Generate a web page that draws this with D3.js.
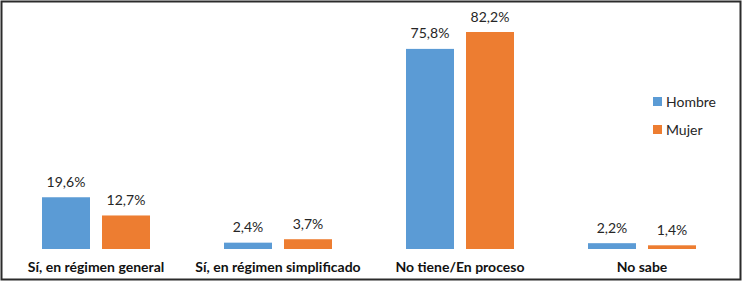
<!DOCTYPE html>
<html>
<head>
<meta charset="utf-8">
<script src="https://cdn.jsdelivr.net/npm/d3@7"></script>
<style>
  body { margin: 0; background: #fff; }
  text { font-family: Lato, "Open Sans", sans-serif; }
</style>
</head>
<body>
<svg id="chart" width="743" height="282"></svg>
<script>
// data
const categories = ["Sí, en régimen general", "Sí, en régimen simplificado", "No tiene/En proceso", "No sabe"];
const seriesNames = ["Hombre", "Mujer"];
const hombre = [19.6, 2.4, 75.8, 2.2];
const mujer = [12.7, 3.7, 82.2, 1.4];
const colors = ["#5B9BD5", "#ED7D31"];

const svg = d3.select("#chart");
const width = +svg.attr("width");
const height = +svg.attr("height");

// frame
svg.append("rect")
  .attr("x", 1.5).attr("y", 1.5)
  .attr("width", width - 4).attr("height", height - 4)
  .attr("fill", "#fff")
  .attr("stroke", "#2b2b2b")
  .attr("stroke-width", 2);

const plot = {left: 5, right: 733, top: 32, bottom: 249};

x0 = d3.scaleBand()
  .domain(categories)
  .range([plot.left, plot.right])
  .paddingInner(0)
  .paddingOuter(0);

x1 = d3.scaleBand()
  .domain(seriesNames)
  .range([37, x0.bandwidth() - 37])
  .paddingInner(0.2);

y = d3.scaleLinear()
  .domain([0, 82.2])
  .range([plot.bottom, plot.top]);

const rows = categories.map((c, i) => ({
  cat: c,
  vals: [
    {name: seriesNames[0], v: hombre[i], color: colors[0]},
    {name: seriesNames[1], v: mujer[i], color: colors[1]}
  ]
}));

const fmt = v => d3.format(".1f")(v).replace(".", ",") + "%";

const g = svg.append("g")
  .selectAll("g")
  .data(rows)
  .enter().append("g")
  .attr("transform", d => `translate(${x0(d.cat)},0)`);

g.selectAll("rect")
  .data(d => d.vals)
  .enter().append("rect")
  .attr("x", d => x1(d.name))
  .attr("y", d => y(d.v))
  .attr("width", x1.bandwidth())
  .attr("height", d => y(0) - y(d.v))
  .attr("fill", d => d.color);

g.selectAll("text.val")
  .data(d => d.vals)
  .enter().append("text")
  .attr("class", "val")
  .attr("x", d => x1(d.name) + x1.bandwidth() / 2)
  .attr("y", d => y(d.v) - 10.5)
  .attr("text-anchor", "middle")
  .attr("font-size", 14)
  .attr("fill", "#262626")
  .text(d => fmt(d.v));

// category axis labels
svg.append("g")
  .selectAll("text")
  .data(categories)
  .enter().append("text")
  .attr("x", d => x0(d) + x0.bandwidth() / 2)
  .attr("y", 272)
  .attr("text-anchor", "middle")
  .attr("font-size", 14)
  .attr("font-weight", "bold")
  .attr("fill", "#111")
  .text(d => d);

// legend
const legend = svg.append("g")
  .selectAll("g")
  .data(seriesNames)
  .enter().append("g")
  .attr("transform", (d, i) => `translate(653,${97 + i * 28})`);

legend.append("rect")
  .attr("width", 9).attr("height", 9)
  .attr("fill", (d, i) => colors[i]);

legend.append("text")
  .attr("x", 13)
  .attr("y", 9.5)
  .attr("font-size", 14)
  .attr("fill", "#262626")
  .text(d => d);
</script>
</body>
</html>
